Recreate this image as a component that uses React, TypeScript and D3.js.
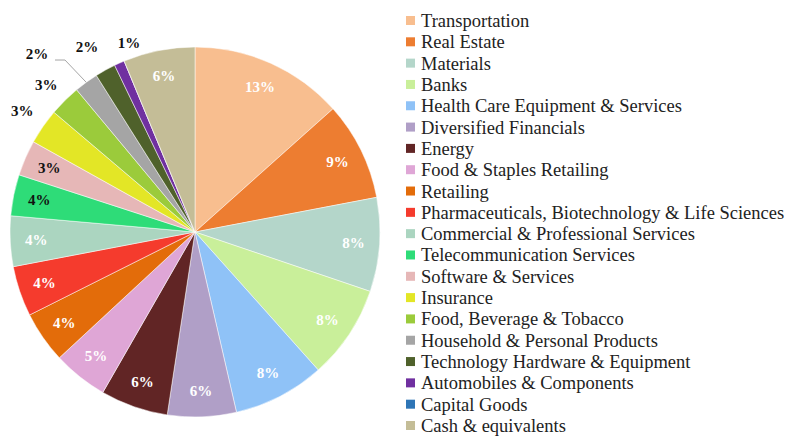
import React from "react";
import * as d3 from "d3";

const categories = [
  "Transportation",
  "Real Estate",
  "Materials",
  "Banks",
  "Health Care Equipment & Services",
  "Diversified Financials",
  "Energy",
  "Food & Staples Retailing",
  "Retailing",
  "Pharmaceuticals, Biotechnology & Life Sciences",
  "Commercial  & Professional Services",
  "Telecommunication Services",
  "Software & Services",
  "Insurance",
  "Food, Beverage & Tobacco",
  "Household & Personal Products",
  "Technology Hardware & Equipment",
  "Automobiles & Components",
  "Capital Goods",
  "Cash & equivalents",
];

const values = [13.4, 8.6, 8.2, 8.2, 8.0, 6.0, 5.9, 4.8, 4.5, 4.4, 4.4, 3.6, 3.1, 3.1, 2.75, 2.1, 1.8, 0.9, 0, 6.25];

const labels = ["13%", "9%", "8%", "8%", "8%", "6%", "6%", "5%", "4%", "4%", "4%", "4%", "3%", "3%", "3%", "2%", "2%", "1%", "", "6%"];

const colors = [
  "#F8BE8F", "#ED7D31", "#B4D6CA", "#C9EF9A", "#8FC2F7", "#B09FC7", "#612525", "#DFA6D6",
  "#E36C0A", "#F53B2D", "#ABD5C0", "#2EDC78", "#E6B7B7", "#E3E626", "#9BCB3B", "#A5A5A5",
  "#4F612B", "#7030A0", "#2E75B6", "#C4BD97",
];

// styling: which labels are dark text, and outside placements
const darkLabels = new Set([11, 12, 13, 14, 15, 16, 17]);
const outsidePlacement: Record<number, { a: number; r: number; leader?: boolean }> = {
  13: { a: 305, r: 211 },
  14: { a: 314.6, r: 209 },
  15: { a: 318.4, r: 238, leader: true },
  16: { a: 329.7, r: 214 },
  17: { a: 340.7, r: 200 },
};

const W = 800;
const H = 438;
const cx = 195;
const cy = 232;
const R = 185;

export default function App() {
  const pie = d3.pie<number>().sort(null).value((d) => d)(values);
  const arc = d3.arc<d3.PieArcDatum<number>>().innerRadius(0).outerRadius(R);
  const font = "'Liberation Serif', 'DejaVu Serif', serif";
  const legendY = d3.scalePoint<number>().domain(d3.range(categories.length)).range([21, 426]);

  return (
    <svg width={W} height={H} style={{ position: "absolute", left: 0, top: 0 }}>
      <rect width={W} height={H} fill="#fff" />
      <g transform={`translate(${cx},${cy})`}>
        {pie.map((p, i) => (
          <path key={i} d={arc(p) || ""} fill={colors[i]} stroke="#fff" strokeWidth={0.5} />
        ))}
        {pie.map((p, i) => {
          if (!labels[i]) return null;
          const op = outsidePlacement[i];
          let x: number, y: number;
          let leader: string | null = null;
          if (op) {
            const a = (op.a * Math.PI) / 180;
            x = op.r * Math.sin(a);
            y = -op.r * Math.cos(a);
            if (op.leader) {
              const mid = (p.startAngle + p.endAngle) / 2;
              const ex = R * Math.sin(mid);
              const ey = -R * Math.cos(mid);
              const elbowX = x + 28;
              const elbowY = y + 6;
              leader = `M${ex},${ey}L${elbowX},${elbowY}L${x + 18},${elbowY}`;
            }
          } else {
            const mid = (p.startAngle + p.endAngle) / 2;
            const r = 159;
            x = r * Math.sin(mid);
            y = -r * Math.cos(mid);
          }
          return (
            <g key={"l" + i}>
              {leader && <path d={leader} fill="none" stroke="#A5A5A5" strokeWidth={1} />}
              <text
                x={x}
                y={y}
                textAnchor="middle"
                dominantBaseline="central"
                fontFamily={font}
                fontWeight="bold"
                fontSize={15}
                fill={darkLabels.has(i) ? "#111" : "#fff"}
              >
                {labels[i]}
              </text>
            </g>
          );
        })}
      </g>
      <g>
        {categories.map((c, i) => (
          <g key={"lg" + i} transform={`translate(406,${legendY(i)})`}>
            <rect x={0} y={-5} width={9} height={9} fill={colors[i]} />
            <text x={15} y={0} dominantBaseline="central" fontFamily={font} fontSize={18.5} fill="#222">
              {c}
            </text>
          </g>
        ))}
      </g>
    </svg>
  );
}
